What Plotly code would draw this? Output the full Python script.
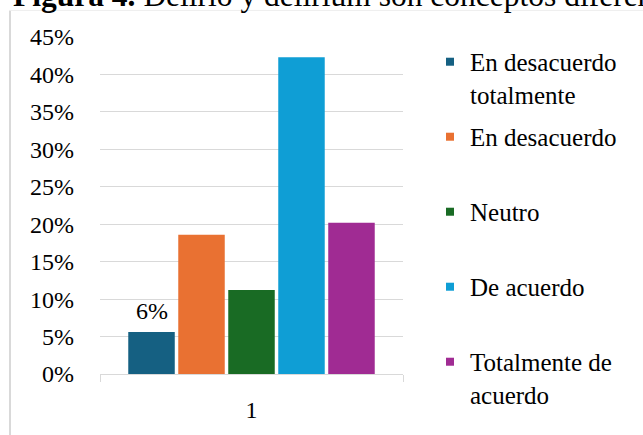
import plotly.graph_objects as go

categories = ["1"]
series_names = ["En desacuerdo totalmente", "En desacuerdo", "Neutro", "De acuerdo", "Totalmente de acuerdo"]
legend_labels = ["En desacuerdo<br>totalmente", "En desacuerdo<br> ", "Neutro<br> ", "De acuerdo<br> ", "Totalmente de<br>acuerdo"]
values = [0.056, 0.186, 0.112, 0.423, 0.202]
colors = ["#156082", "#E97132", "#196B24", "#0F9ED5", "#A02B93"]
labelled_series = [0]
title_text = "<b>Figura 4.</b> Delirio y delirium son conceptos diferen"

FONT = "Liberation Serif, Times New Roman, serif"

fig = go.Figure()
for i, name in enumerate(series_names):
    fig.add_trace(go.Bar(
        x=categories, y=[values[i]], name=name,
        marker=dict(color=colors[i], line=dict(width=0)),
        showlegend=False,
    ))
for i, name in enumerate(series_names):
    fig.add_trace(go.Scatter(
        x=[None], y=[None], mode="markers", name=legend_labels[i],
        legendgroup=f"g{i}",
        marker=dict(symbol="square", size=8, color=colors[i]),
        showlegend=True,
    ))

L, R, T, B = 100, 240, 37, 56
W, H = 643, 435
pw, ph = W - L - R, H - T - B

def px_x(p):
    return (p - L) / pw

def px_y(p):
    return (H - B - p) / ph

bargap, bargroupgap = 0.175, 0.07
n = len(series_names)
slot = (1 - bargap) / n

annotations = [
    dict(text=title_text, xref="paper", yref="paper",
         x=px_x(11), y=px_y(15), xanchor="left", yanchor="bottom",
         showarrow=False, font=dict(family=FONT, size=31.5, color="#000000")),
]
for i in labelled_series:
    annotations.append(dict(
        text=f"{values[i]:.0%}", xref="x", yref="y",
        x=categories.index(categories[0]), y=values[i], yanchor="bottom",
        xshift=(-(1 - bargap) / 2 + slot * (i + 0.5)) * pw, yshift=6,
        showarrow=False, font=dict(family=FONT, size=24, color="#000000"),
    ))

fig.update_layout(
    width=W, height=H,
    margin=dict(l=L, r=R, t=T, b=B, pad=0),
    paper_bgcolor="white", plot_bgcolor="white",
    barmode="group", bargap=bargap, bargroupgap=bargroupgap,
    font=dict(family=FONT, size=24, color="#000000"),
    showlegend=True,
    legend=dict(
        x=px_x(430), y=px_y(39), xanchor="left", yanchor="top",
        traceorder="grouped", tracegroupgap=7, valign="top",
        font=dict(family=FONT, size=25, color="#000000"),
        bgcolor="rgba(0,0,0,0)", itemwidth=30, maxheight=430,
    ),
    xaxis=dict(
        type="category", range=[-0.5, len(categories) - 0.5],
        showgrid=False, showline=True, linecolor="#d9d9d9", linewidth=1,
        ticks="outside", tickson="boundaries", ticklen=7, tickcolor="#d9d9d9",
        tickfont=dict(family=FONT, size=24), ticklabelstandoff=14,
    ),
    yaxis=dict(
        range=[0, 0.45], dtick=0.05, tickformat=".0%",
        showgrid=True, gridcolor="#d9d9d9", gridwidth=1,
        zeroline=False, showline=False, ticks="",
        tickfont=dict(family=FONT, size=24), ticklabelstandoff=25,
    ),
    shapes=[
        dict(type="line", xref="paper", yref="paper",
             x0=px_x(10), x1=px_x(10), y0=px_y(10), y1=px_y(445),
             line=dict(color="#d9d9d9", width=2)),
        dict(type="line", xref="paper", yref="paper",
             x0=px_x(9), x1=px_x(660), y0=px_y(10), y1=px_y(10),
             line=dict(color="#eeeeee", width=1)),
    ],
    annotations=annotations,
)

fig.write_html(
    "out.html",
    config={"displayModeBar": False},
    post_script="document.body.style.margin='0';document.body.style.overflow='hidden';",
)
